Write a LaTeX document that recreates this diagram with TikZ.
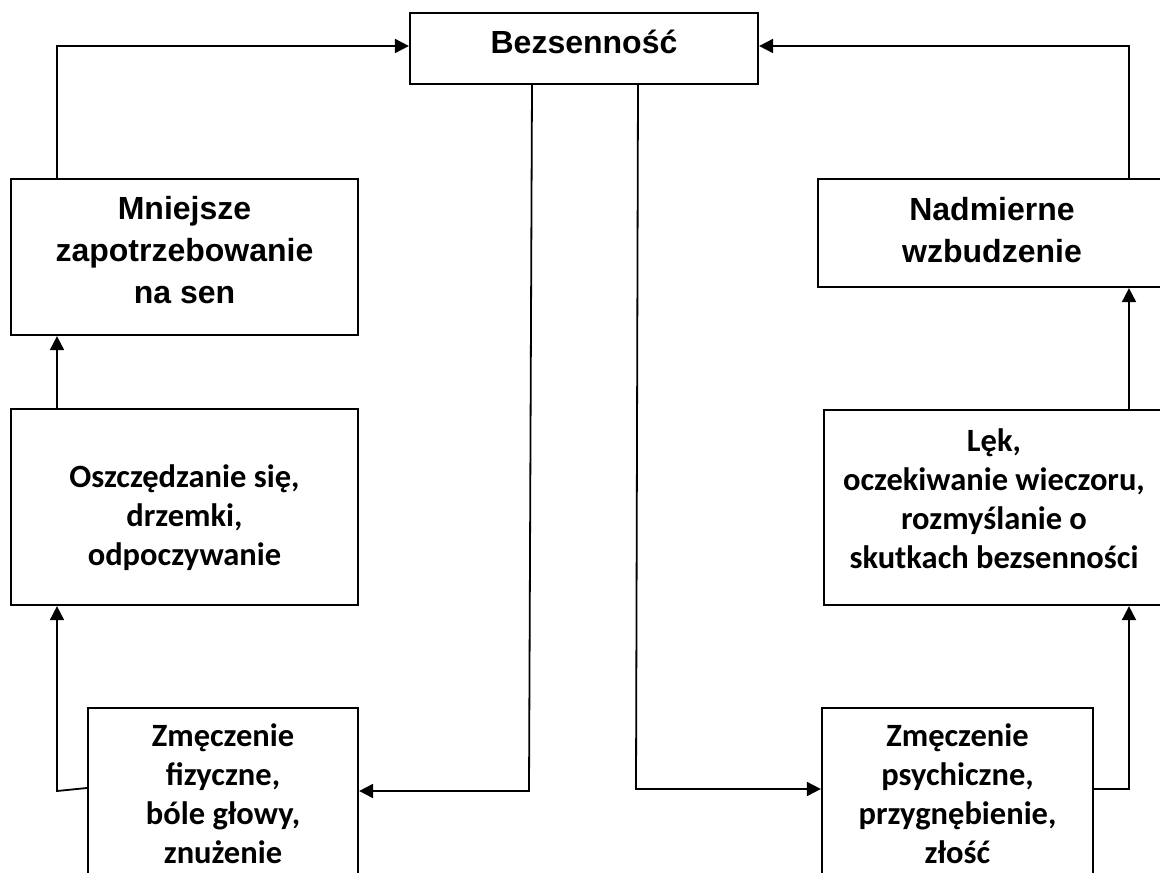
\documentclass[tikz,border=0pt]{standalone}
\usepackage{fontspec}
\setmainfont{Liberation Sans}
\newfontfamily\arialfont{Liberation Sans}
\newfontfamily\califont{Carlito}
\usetikzlibrary{arrows.meta}
\begin{document}
\begin{tikzpicture}[x=1pt,y=-1pt,
  box/.style={draw=black,line width=2.2pt,rectangle,inner sep=0pt},
  conn/.style={line width=1.8pt,-{Triangle[length=14pt,width=14pt]}},
  bigtxt/.style={font=\arialfont\bfseries\fontsize{32}{41.7}\selectfont,align=center,anchor=base,inner sep=0pt},
  caltxt/.style={font=\califont\bfseries\fontsize{32.5}{38.7}\selectfont,align=center,anchor=base,inner sep=0pt}]
\useasboundingbox (0,0) rectangle (1160,873);
\clip (0,0) rectangle (1160,873);
% boxes
\node[box,minimum width=348pt,minimum height=71pt] (bez) at (584,48.5) {};
\node[box,minimum width=347pt,minimum height=156pt] (mn) at (184.5,257) {};
\node[box,minimum width=348pt,minimum height=108pt] (nad) at (992,233) {};
\node[box,minimum width=347pt,minimum height=196pt] (osz) at (184.5,507) {};
\node[box,minimum width=340pt,minimum height=195pt] (lek) at (994,507.5) {};
\node[box,minimum width=270pt,minimum height=200pt] (zf) at (223,808) {};
\node[box,minimum width=271pt,minimum height=200pt] (zp) at (957.5,808) {};
% texts (anchor base = baseline of last line)
\node[bigtxt] (tbez) at (584,53) {Bezsenność};
\node[bigtxt] (tmn) at (184.5,303) {Mniejsze\\zapotrzebowanie\\na sen};
\node[bigtxt] (tnad) at (992,262) {Nadmierne\\wzbudzenie};
\node[caltxt] (tosz) at (184.5,565) {Oszczędzanie się,\\drzemki,\\odpoczywanie};
\node[caltxt] (tlek) at (994,568) {Lęk,\\oczekiwanie wieczoru,\\rozmyślanie o\\skutkach bezsenności};
\node[caltxt] (tzf) at (223,863) {Zmęczenie\\fizyczne,\\bóle głowy,\\znużenie};
\node[caltxt] (tzp) at (957.5,863) {Zmęczenie\\psychiczne,\\przygnębienie,\\złość};
% helper coordinates
\coordinate (cl) at (57,46);
\coordinate (cr) at (1129,46);
\coordinate (lb) at (529,791);
\coordinate (rb) at (636,789);
% connectors
\draw[conn] (mn.north -| cl) |- (bez.west |- cl);
\draw[conn] (nad.north -| cr) |- (bez.east |- cr);
\draw[conn] (osz.north -| cl) -- (mn.south -| cl);
\draw[conn] (lek.north -| cr) -- (nad.south -| cr);
\draw[conn] (zf.west |- 0,788) -- (57,791) -- (osz.south -| cl);
\draw[conn] (zp.east |- rb) -- (rb -| cr) -- (lek.south -| cr);
\draw[conn] (bez.south -| 532,0) -- (lb) -- (zf.east |- lb);
\draw[conn] (bez.south -| 638,0) -- (rb) -- (zp.west |- rb);
\end{tikzpicture}
\end{document}
